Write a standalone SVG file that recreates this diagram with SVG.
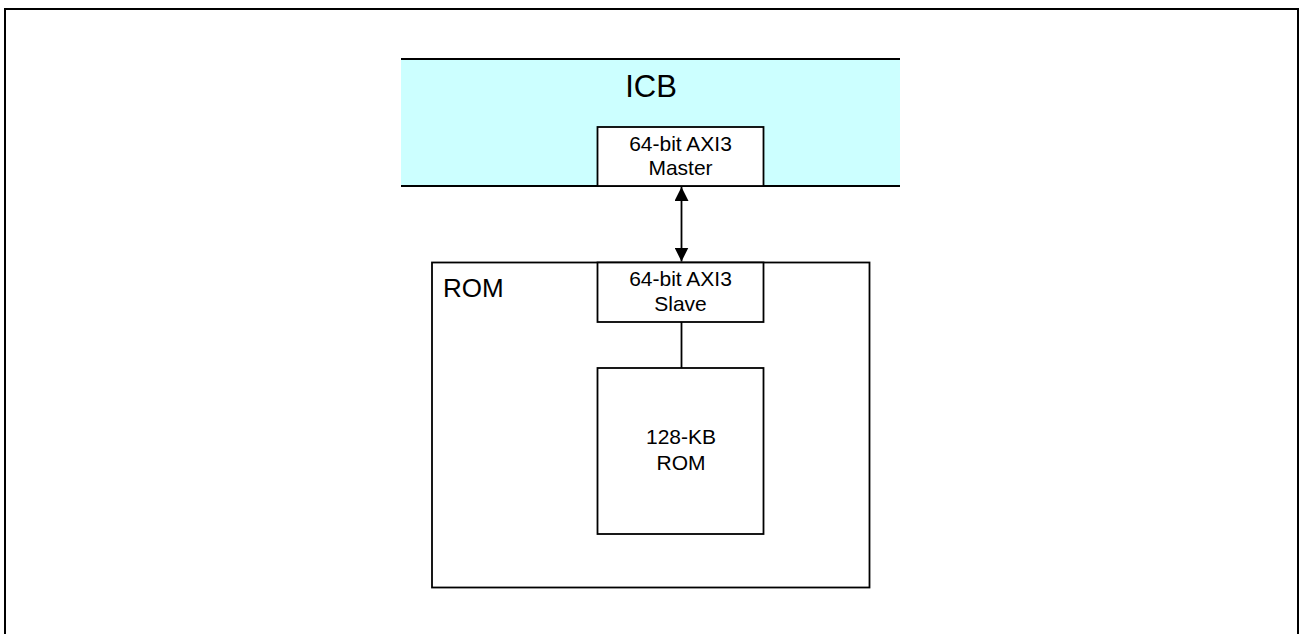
<svg xmlns="http://www.w3.org/2000/svg" width="1300" height="634" viewBox="0 0 1300 634">
<style>
.box{fill:#ffffff;stroke:#000000;stroke-width:1.8}
.t{font-family:"Liberation Sans",Arial,sans-serif;fill:#000000;text-anchor:middle}
.conn{stroke:#000000;stroke-width:1.8;fill:none}
</style>
<defs>
<marker id="ah" viewBox="0 0 14 14" refX="14" refY="7" markerWidth="14" markerHeight="14" markerUnits="userSpaceOnUse" orient="auto-start-reverse">
<path d="M0,0 L14,7 L0,14 Z" fill="#000000"/>
</marker>
</defs>
<rect width="1300" height="634" fill="#ffffff"/>
<g id="frame">
<path d="M5,640 L5,9 L1298,9 L1298,640" fill="none" stroke="#000000" stroke-width="2"/>
</g>
<g id="icb">
<rect x="401" y="59" width="499" height="127" fill="#CCFFFF"/>
<line x1="401" y1="59" x2="900" y2="59" stroke="#000000" stroke-width="1.8"/>
<line x1="401" y1="186" x2="900" y2="186" stroke="#000000" stroke-width="1.8"/>
<text class="t" x="651" y="97" font-size="31">ICB</text>
</g>
<g id="master">
<rect class="box" x="597.5" y="127" width="166" height="59"/>
<text class="t" x="680.5" y="151" font-size="21">64-bit AXI3</text>
<text class="t" x="680.5" y="175" font-size="21">Master</text>
</g>
<g id="rom-block">
<rect class="box" x="432" y="262.5" width="437.5" height="325"/>
<text x="443" y="297" font-size="26" font-family="Liberation Sans,Arial,sans-serif">ROM</text>
</g>
<g id="slave">
<rect class="box" x="597.5" y="262.5" width="166" height="59.5"/>
<text class="t" x="680.5" y="286" font-size="21">64-bit AXI3</text>
<text class="t" x="680.5" y="311" font-size="21">Slave</text>
</g>
<g id="rom128">
<rect class="box" x="597.5" y="368" width="166" height="166"/>
<text class="t" x="681" y="444" font-size="21">128-KB</text>
<text class="t" x="681" y="470" font-size="21">ROM</text>
</g>
<g id="connectors">
<line class="conn" x1="681.5" y1="187" x2="681.5" y2="261.5" marker-start="url(#ah)" marker-end="url(#ah)"/>
<line class="conn" x1="681.5" y1="322" x2="681.5" y2="368"/>
</g>
</svg>
